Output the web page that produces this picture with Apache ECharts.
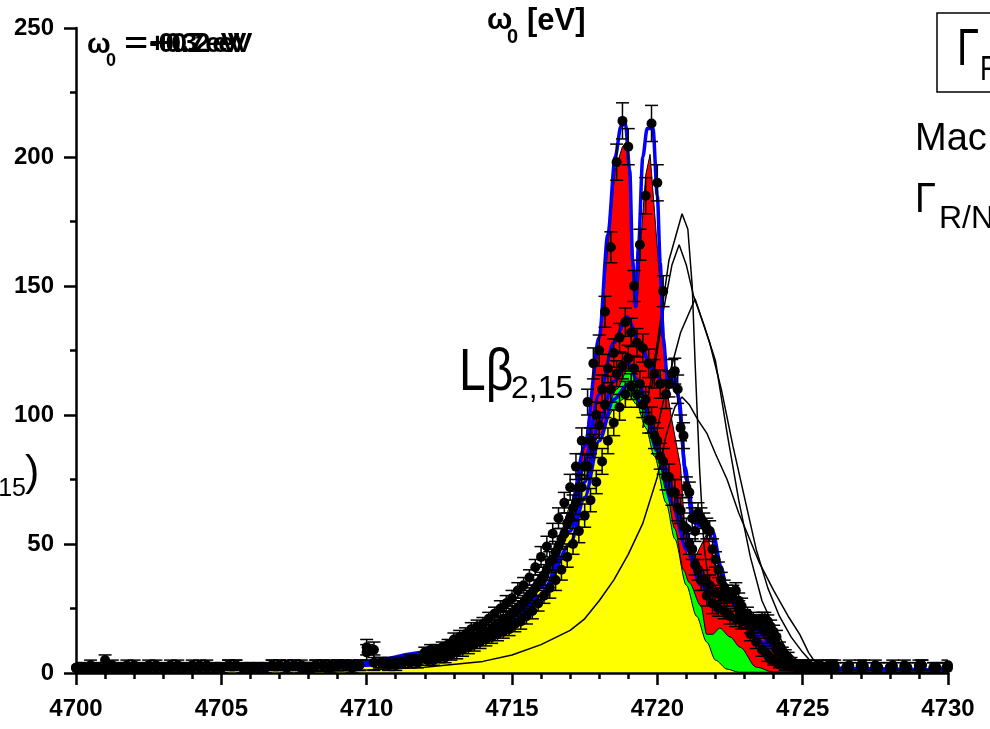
<!DOCTYPE html>
<html><head><meta charset="utf-8">
<script src="https://cdn.jsdelivr.net/npm/echarts@6/dist/echarts.min.js"></script>
<style>html,body{margin:0;padding:0;background:#fff}#c{width:990px;height:729px}</style>
</head><body><div id="c"></div>
<script>
// ---------- data ----------
const xTicksMin = 4700, xTicksMax = 4730, yMax = 250;

const xsA = [4700,4700.5,4701,4701.5,4702,4702.5,4703,4703.5,4704,4704.5,4705,4705.5,4706,4706.5,4707,4707.5,4708,4708.5,4709,4709.5,4710,4710.5,4711,4711.5,
4712.0,4712.2,4712.4,4712.6,4712.8,4713.0,4713.2,4713.4,4713.6,4713.8,4714.0,4714.2,4714.4,4714.6,4714.8,4715.0,4715.2,4715.4,4715.6,4715.8,
4716.0,4716.2,4716.4,4716.6,4716.8,4717.0,4717.2,4717.4,4717.6,4717.8,4718.0,4718.2,4718.4,4718.6,4718.8,4719.0,4719.2,4719.4,4719.6,4719.8,
4720.0,4720.2,4720.4,4720.6,4720.8,4721.0,4721.2,4721.4,4721.6,4721.8,4722.0,4722.2,4722.4,4722.6,4722.8,4723.0,4723.2,4723.4,4723.6,4723.8,
4724.0,4724.2,4724.4,4724.6,4724.8,4725.0,4725.2,4725.4,4725.6,4725.8,4726.0,
4726.5,4727,4727.5,4728,4728.5,4729,4729.5,4730];

const xsB = [4700.25,4700.75,4701.25,4701.75,4702.25,4702.75,4703.25,4703.75,4704.25,4704.75,4705.25,4705.75,4706.25,4706.75,4707.25,4707.75,4708.25,4708.75,4709.25,4709.75,4710.25,4710.75,4711.25,4711.75,
4712.1,4712.3,4712.5,4712.7,4712.9,4713.1,4713.3,4713.5,4713.7,4713.9,4714.1,4714.3,4714.5,4714.7,4714.9,4715.1,4715.3,4715.5,4715.7,4715.9,
4716.1,4716.3,4716.5,4716.7,4716.9,4717.1,4717.3,4717.5,4717.7,4717.9,4718.1,4718.3,4718.5,4718.7,4718.9,4719.1,4719.3,4719.5,4719.7,4719.9,
4720.1,4720.3,4720.5,4720.7,4720.9,4721.1,4721.3,4721.5,4721.7,4721.9,4722.1,4722.3,4722.5,4722.7,4722.9,4723.1,4723.3,4723.5,4723.7,4723.9,
4724.1,4724.3,4724.5,4724.7,4724.9,4725.1,4725.3,4725.5,4725.7,4725.9,4726.1,
4726.6,4727.1,4727.6,4728.1,4728.6,4729.1,4729.6,4729.95];

const counts1 = [2,3,5,2,2,3,2,2,3,2,2,3,2,2,3,3,2,3,3,3,10,4,4,5,
8,9,9,10,11,13,14,15,17,18,19,21,23,25,27,29,32,34,37,41,45,49,54,60,66,72,80,90,105,120,125,140,165,198,214,204,150,166,185,213,
190,148,112,117,95,72,60,62,58,55,44,36,31,31,28,22,18,20,21,20,16,10,7,4,3,3,2,2,3,2,2,
2,3,2,2,3,2,2,3];
const err1 = [2,2,2,2,2,2,2,2,2,2,2,2,2,2,2,2,2,2,2,2,3,2,2,2,
2,2,2,2,2,2.5,2.5,2.5,2.5,2.5,2.5,2.5,2.5,3,3,3,3,3,3,3,4,4,4,4,4,5,5,5,5,6,6,6,6,7,7,7,6,6,7,7,
7,6,5,5,5,4,4,4,4,4,3,3,3,3,3,2.5,2.5,2.5,2.5,2.5,2.5,2,2,2,2,2,2,2,2,2,2,
2,2,2,2,2,2,2,2];

const counts2 = [2,2,3,2,2,2,3,2,3,2,3,2,2,3,3,2,3,3,3,3,9,4,4,5,
6,7,8,8,9,11,11,12,14,15,16,17,19,21,22,24,26,29,31,35,38,43,47,52,58,64,72,80,90,100,110,118,124,130,136,132,128,126,120,116,
112,108,116,110,92,70,55,60,56,48,40,33,30,32,26,23,21,20,21,18,14,8,6,3,3,2,2,3,2,2,3,
3,2,2,3,2,3,2,2];
const err2 = [2,2,2,2,2,2,2,2,2,2,2,2,2,2,2,2,2,2,2,2,3,2,2,2,
2,2,2,2,2,2.5,2.5,2.5,2.5,2.5,2.5,2.5,2.5,3,3,3,3,3,3,3,4,4,4,4,4,5,5,5,5,5,5.5,5.5,5.5,5.5,5.5,5.5,5.5,5.5,5.5,5.5,
5.5,5.5,5.5,5.5,5,4,4,4,4,4,3,3,3,3,3,2.5,2.5,2.5,2.5,2.5,2.5,2,2,2,2,2,2,2,2,2,2,
2,2,2,2,2,2,2,2];

const counts3 = [2,2,2,2,3,2,2,3,2,3,2,3,2,2,3,3,2,3,3,2,8,4,3,4,
6,6,7,8,9,10,11,12,13,14,15,16,18,19,21,23,25,27,30,33,36,40,44,49,54,60,66,72,80,88,96,104,110,116,119,122,118,112,106,98,
90,82,76,70,63,56,48,40,36,34,31,30,29,29,25,20,15,12,9,7,5,4,3,3,2,2,3,2,2,2,3,
2,2,3,2,2,3,2,2];
const counts4 = [2,2,2,3,2,3,2,2,2,2,3,2,2,3,2,3,3,2,3,3,4,3,4,4,
5,5,6,6,7,8,9,10,11,12,13,14,15,16,17,19,20,22,24,27,30,33,36,40,45,50,55,61,67,74,82,90,97,103,108,111,108,104,98,92,
84,76,70,64,57,50,42,36,30,27,25,24,22,21,20,20,19,18,16,13,9,6,3,3,2,3,2,2,2,3,2,
2,3,2,2,2,3,2,2];
const errLow = [2,2,2,2,2,2,2,2,2,2,2,2,2,2,2,2,2,2,2,2,3,2,2,2,
2,2,2,2,2,2.5,2.5,2.5,2.5,2.5,2.5,2.5,2.5,2.5,2.5,3,3,3,3,3,3,4,4,4,4,4,4.5,4.5,4.5,4.5,5,5,5,5,5,5,5,5,5,5,
5,5,5,5,5,4,4,4,4,4,3,3,3,3,3,2.5,2.5,2.5,2.5,2.5,2,2,2,2,2,2,2,2,2,2,2,
2,2,2,2,2,2,2,2];

const redArea = [[4700,1],[4705,1.5],[4710,3],[4712,6],[4714,12],[4715,20],[4716,33],[4716.5,46],[4717,63],[4717.5,88],[4718,128],[4718.3,165],[4718.55,195],[4718.8,204],[4718.95,206],[4719.1,180],[4719.2,148],[4719.3,142],[4719.45,170],[4719.6,193],[4719.75,201],[4719.95,172],[4720.1,150],[4720.2,140],[4720.3,112],[4720.5,98],[4720.8,80],[4721.0,46],[4721.35,46],[4721.7,54],[4722.05,39],[4722.3,28],[4722.6,28],[4722.85,26],[4723.2,15.5],[4723.8,18],[4724.2,10],[4724.9,2],[4725.3,0.5],[4730,0.5]];
const greenArea = [[4700,0.5],[4705,1],[4708,1.8],[4710,3],[4712,6.5],[4714,14],[4715,22],[4716,33],[4716.5,47],[4717,63],[4717.5,79],[4718,92],[4718.6,110],[4719.0,118],[4719.35,114],[4719.5,108],[4719.65,100],[4720.0,86],[4720.3,71],[4720.6,56],[4720.9,40],[4721.1,35],[4721.5,26],[4721.7,15],[4721.9,15],[4722.15,17.4],[4722.5,14],[4722.85,10],[4723.4,2.3],[4724,0.3],[4730,0.3]];
const yellowArea = [[4700,0.5],[4705,1],[4708,1.8],[4710,3],[4712,6.5],[4713,9.5],[4714,15],[4715,23],[4716,35],[4716.5,48],[4717,64],[4717.5,79],[4718,92],[4718.5,102],[4718.8,106],[4719.0,108],[4719.3,104],[4719.6,95],[4719.9,84],[4720.3,66],[4720.6,52],[4721.0,34],[4721.35,22],[4721.7,12],[4722.0,5],[4722.4,1.5],[4722.8,0.3],[4730,0.3]];

const blueFit1 = [[4700,1.5],[4705,2],[4708,3],[4710,4.5],[4712,8],[4713,11],[4714,16],[4715,23],[4716,36],[4716.5,46],[4717,62],[4717.5,88],[4718,130],[4718.3,170],[4718.55,200],[4718.75,212],[4718.9,213],[4719.05,195],[4719.15,160],[4719.25,142],[4719.35,165],[4719.5,200],[4719.65,211],[4719.85,211],[4720.0,185],[4720.1,159],[4720.2,130],[4720.35,114],[4720.6,115],[4720.75,106],[4720.95,80],[4721.2,60],[4721.45,57],[4721.65,59],[4721.9,55],[4722.2,41],[4722.4,31],[4722.8,26],[4723.2,22],[4723.5,20.5],[4724.0,17],[4724.3,9],[4724.9,2],[4725.5,1],[4730,1]];
const blueFit2 = [[4700,1.5],[4710,4],[4712,7],[4714,15],[4715,22],[4716,33],[4716.5,45],[4717,60],[4717.5,82],[4718,108],[4718.5,128],[4718.95,138],[4719.4,128],[4719.8,118],[4720.2,113],[4720.5,114],[4720.7,108],[4721.0,75],[4721.3,58],[4721.6,58],[4721.9,52],[4722.3,35],[4722.7,27],[4723.2,22],[4723.6,20],[4724.0,15],[4724.4,7],[4725,2],[4730,1]];
const blueFit3 = [[4700,1],[4710,3.5],[4712,7],[4714,14],[4715,20],[4716,30],[4717,55],[4717.5,74],[4718,97],[4718.5,113],[4719.0,120],[4719.4,111],[4719.8,96],[4720.2,82],[4720.5,72],[4721.0,54],[4721.3,44],[4721.6,37],[4722.0,31],[4722.3,29],[4722.7,27],[4723.2,21],[4723.6,12],[4724.0,6],[4724.5,2],[4725,1],[4730,1]];
const blueFit4 = [[4700,1],[4710,3],[4712,6],[4714,13],[4715,19],[4716,28],[4717,50],[4717.5,68],[4718,90],[4718.5,106],[4719.0,112],[4719.5,104],[4720,86],[4720.5,66],[4721,48],[4721.5,34],[4722,26],[4722.5,22],[4723,20],[4723.5,16],[4724,9],[4724.5,3],[4725,1],[4730,1]];

const thinLine1 = [[4719.5,95],[4720.0,128],[4720.4,160],[4720.85,178],[4721.05,172],[4721.2,150],[4721.3,120],[4721.45,80],[4721.6,50],[4721.8,32],[4722.2,30],[4722.6,30],[4723.0,24],[4723.4,12],[4723.8,4],[4724.3,1]];
const thinLine2 = [[4719.8,110],[4720.2,140],[4720.5,158],[4720.75,166],[4721.0,158],[4721.25,146],[4721.6,135],[4722.0,121],[4722.4,93],[4722.8,67],[4723.2,45],[4723.6,28],[4724.0,18],[4724.5,8],[4725.0,3],[4725.5,1]];
const thinLine3 = [[4720.0,95],[4720.4,115],[4720.8,132],[4721.3,145],[4721.8,128],[4722.2,110],[4722.6,88],[4723.0,68],[4723.4,48],[4723.8,33],[4724.2,22],[4724.6,14],[4725.0,8],[4725.4,3],[4725.8,1]];
const thinLine4 = [[4707.7,0.4],[4710,1.2],[4712,2.2],[4714,4.5],[4715,7],[4716,11],[4717,16.5],[4717.5,21],[4718,28],[4718.5,36],[4719,46],[4719.5,58],[4720,76],[4720.3,92],[4720.6,103],[4720.85,107],[4721.1,104],[4721.4,98],[4721.7,93],[4722.0,85],[4722.4,75],[4722.8,62],[4723.1,54],[4723.5,43],[4724.0,32],[4724.5,22],[4724.9,15],[4725.2,8],[4725.5,3],[4726,1]];

// ---------- chart ----------
const FONT = '"Liberation Sans", Arial, sans-serif';
const chart = echarts.init(document.getElementById('c'), null, {renderer:'canvas'});

function pts(xs, ys, es){ return xs.map((x,i)=>[x, ys[i], es[i]]); }
function area(data, color, smooth){
  return {type:'line', z:1, data, symbol:'none', smooth: smooth, smoothMonotone:'x', silent:true,
    lineStyle:{color:'#000', width:1}, areaStyle:{color, opacity:1}};
}
function thin(data){ return {type:'line', z:2, data, symbol:'none', silent:true, lineStyle:{color:'#000', width:1.5}}; }
function blue(data){ return {type:'line', z:3, data, symbol:'none', smooth:0.3, smoothMonotone:'x', silent:true, lineStyle:{color:'#0000ff', width:3.5}}; }
function errBars(data){
  return {type:'custom', z:4, silent:true, data, encode:{x:0, y:1}, clip:true,
    renderItem:(p, api)=>{
      const x = api.value(0), y = api.value(1), e = api.value(2);
      const a = api.coord([x, y + e]), b = api.coord([x, Math.max(0, y - e)]);
      const s = {stroke:'#000', lineWidth:1.5};
      return {type:'group', children:[
        {type:'line', shape:{x1:a[0], y1:a[1], x2:b[0], y2:b[1]}, style:s},
        {type:'line', shape:{x1:a[0]-6.5, y1:a[1], x2:a[0]+6.5, y2:a[1]}, style:s},
        {type:'line', shape:{x1:b[0]-6.5, y1:b[1], x2:b[0]+6.5, y2:b[1]}, style:s}
      ]};
    }};
}
function dots(data){ return {type:'scatter', z:5, data, symbol:'circle', symbolSize:10, silent:true, itemStyle:{color:'#000', opacity:1}}; }

function T(text, x, y, size, o){
  o = o || {};
  return {type:'text', x, y, scaleY:o.sy||1, z:100,
    style:{text, fill:'#000', font:(o.bold?'bold ':'')+size+'px '+FONT,
      align:o.align||'left', verticalAlign:'middle', textAlign:o.align||'left', textVerticalAlign:'middle'}};
}

const d1 = pts(xsA, counts1, err1), d2 = pts(xsB, counts2, err2), d3 = pts(xsA, counts3, errLow), d4 = pts(xsB, counts4, errLow);

const labelStyle = {color:'#000', fontSize:24, fontWeight:'bold', fontFamily:FONT, formatter:v=>String(v)};
const axisCommon = {
  z:10,
  axisLine:{show:true, onZero:false, lineStyle:{color:'#000', width:2.5}},
  axisTick:{show:true, inside:false, length:12, lineStyle:{color:'#000', width:2.5}},
  splitLine:{show:false}
};

chart.setOption({
  animation:false,
  backgroundColor:'#fff',
  grid:{left:76, right:42, top:28, bottom:56, containLabel:false},
  xAxis:Object.assign({}, axisCommon, {type:'value', min:xTicksMin, max:xTicksMax, interval:5,
    minorTick:{show:true, splitNumber:5, length:6, lineStyle:{color:'#000', width:2.5}},
    axisLabel:Object.assign({}, labelStyle, {margin:24})}),
  yAxis:Object.assign({}, axisCommon, {type:'value', min:0, max:yMax, interval:50,
    minorTick:{show:true, splitNumber:2, length:6, lineStyle:{color:'#000', width:2.5}},
    axisLabel:Object.assign({}, labelStyle, {margin:22})}),
  series:[
    area(redArea, '#ff0000', false),
    area(greenArea, '#00ff00', 0.3),
    area(yellowArea, '#ffff00', 0.3),
    thin(thinLine1), thin(thinLine2), thin(thinLine3), thin(thinLine4),
    blue(blueFit4), blue(blueFit3), blue(blueFit2), blue(blueFit1),
    errBars(d1), errBars(d2), errBars(d3), errBars(d4),
    dots(d1), dots(d2), dots(d3), dots(d4)
  ],
  graphic:[
    T('ω', 87, 45, 28, {bold:true}),
    T('0', 106, 61, 18, {bold:true}),
    T('= -0.3 eV', 125, 44, 28, {bold:true}),
    T('= +0.7 eV', 125, 44, 28, {bold:true}),
    T('= +0.2 eV', 131, 44, 28, {bold:true}),
    T('ω', 487, 21, 30, {bold:true}),
    T('0', 507, 37, 20, {bold:true}),
    T('[eV]', 527, 21, 31, {bold:true}),
    {type:'rect', z:100, shape:{x:937, y:13, width:80, height:79}, style:{fill:'transparent', stroke:'#000', lineWidth:1.5}},
    T('Γ', 957, 51, 40, {sy:1.29}),
    T('R', 980, 70, 27, {sy:1.29}),
    T('Mac', 915, 140, 38),
    T('Γ', 915, 200, 38, {sy:1.1}),
    T('R/N', 939, 219, 32),
    T('Lβ', 459, 374, 48, {sy:1.22}),
    T('2,15', 511, 389, 32),
    T('(Lβ', -23, 473, 43, {align:'right'}),
    T('2,15', 26, 489, 25, {align:'right'}),
    T(')', 25, 473, 43)
  ]
});
</script></body></html>
